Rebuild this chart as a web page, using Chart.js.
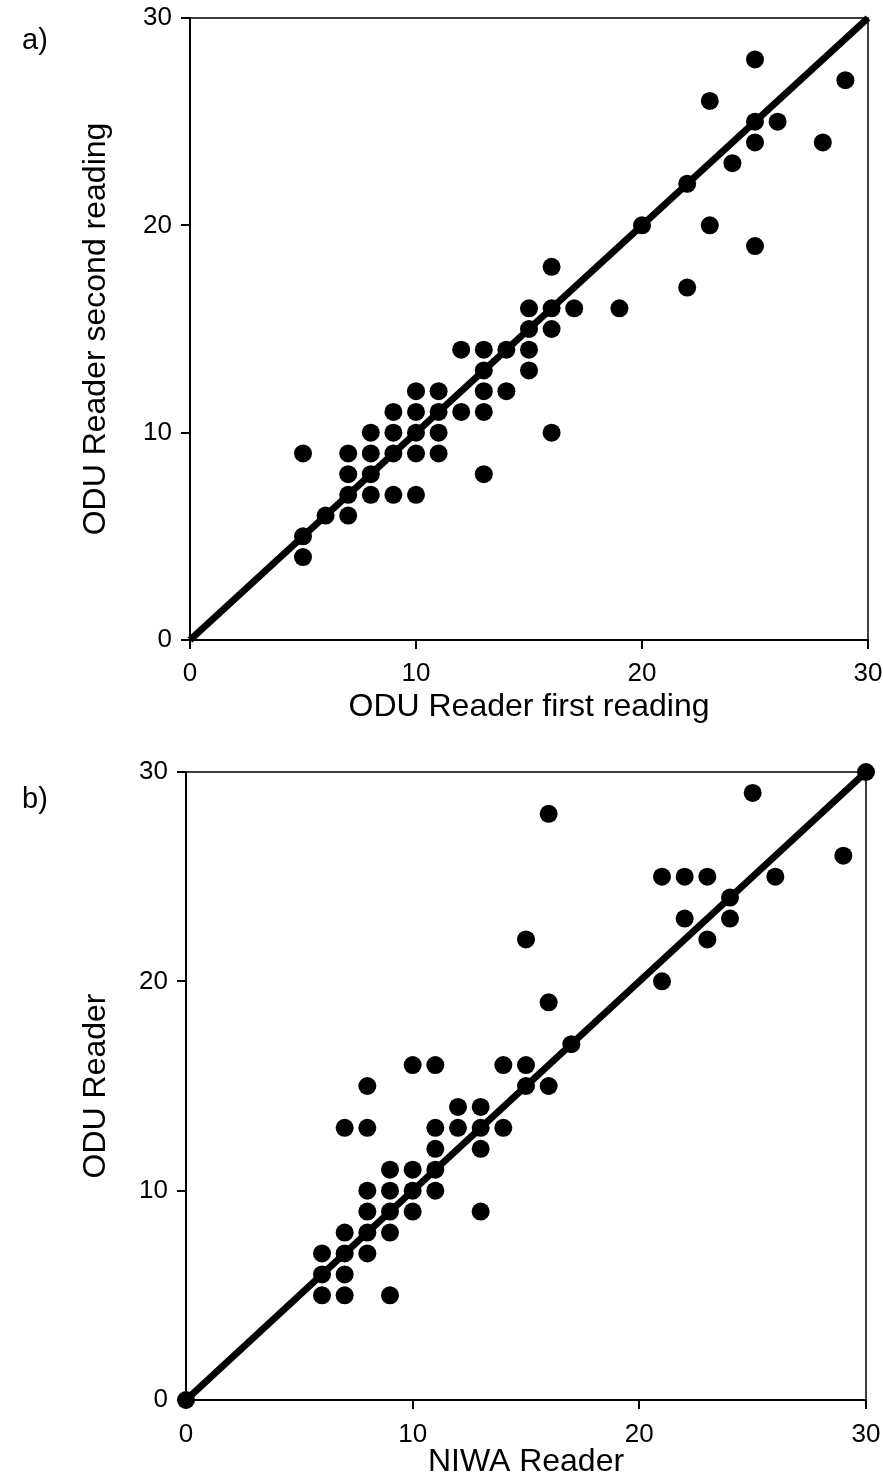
<!DOCTYPE html>
<html>
<head>
<meta charset="utf-8">
<script src="https://cdn.jsdelivr.net/npm/chart.js@4.4.0/dist/chart.umd.min.js"></script>
<style>
  html, body { margin: 0; padding: 0; background: #fff; overflow: hidden; }
  .panel { position: absolute; left: 0; }
</style>
</head>
<body>
<div class="panel" style="top:0"><canvas id="chartA" width="883" height="740"></canvas></div>
<div class="panel" style="top:740px"><canvas id="chartB" width="883" height="760"></canvas></div>
<script>
// panel a) ODU reader, first vs second reading
const odu1First  = [5,5,5,6,7,7,7,7,8,8,8,8,9,9,9,9,10,10,10,10,10,11,11,11,11,12,12,13,13,13,13,13,14,14,15,15,15,15,16,16,16,16,17,19,20,22,22,23,23,24,25,25,25,25,26,28,29];
const odu1Second = [9,5,4,6,9,8,7,6,10,9,8,7,11,10,9,7,12,11,10,9,7,12,11,10,9,14,11,14,13,12,11,8,14,12,16,15,14,13,18,16,15,10,16,16,20,22,17,26,20,23,28,25,24,19,25,24,27];

// panel b) NIWA reader vs ODU reader
const niwaAge = [0,6,6,6,7,7,7,7,7,8,8,8,8,8,8,9,9,9,9,9,10,10,10,10,11,11,11,11,11,12,12,13,13,13,13,14,14,15,15,15,16,16,16,17,21,21,22,22,23,23,24,24,25,26,29,30];
const oduAge  = [0,7,6,5,13,8,7,6,5,15,13,10,9,8,7,11,10,9,8,5,16,11,10,9,16,13,12,11,10,14,13,14,13,12,9,16,13,22,16,15,28,19,15,17,25,20,25,23,25,22,24,23,29,25,26,30];

// 1:1 line ends and axis ticks
const oneToOne  = [0, 30];
const axisTicks = [0, 10, 20, 30];

const FONT = '"Liberation Sans", Arial, Helvetica, sans-serif';

const framePlugin = {
  id: 'frame',
  afterDraw(chart, args, opts) {
    const { ctx, chartArea: a } = chart;
    ctx.save();
    ctx.strokeStyle = '#000';
    ctx.lineWidth = 1.5;
    ctx.beginPath();
    ctx.moveTo(a.left, a.top);
    ctx.lineTo(a.right, a.top);
    ctx.lineTo(a.right, a.bottom);
    ctx.stroke();
    // panel letter
    ctx.fillStyle = '#000';
    ctx.font = '29px ' + FONT;
    ctx.textBaseline = 'middle';
    ctx.fillText(opts.text, opts.x, opts.y);
    ctx.restore();
  }
};

function makeChart(id, xs, ys, cfg) {
  const pts = xs.map((x, i) => ({ x: x, y: ys[i] }));
  const line = oneToOne.map(v => ({ x: v, y: v }));

  const axis = (title, titlePad, tickPad, fit) => ({
    type: 'linear',
    min: oneToOne[0],
    max: oneToOne[1],
    afterBuildTicks: s => { s.ticks = axisTicks.map(v => ({ value: v })); },
    afterFit: fit,
    grid: { drawOnChartArea: false, drawTicks: true, tickLength: 9, color: '#000', lineWidth: 2 },
    border: { display: true, color: '#000', width: 2 },
    ticks: { color: '#000', padding: tickPad, font: { family: FONT, size: 26 } },
    title: { display: true, text: title, color: '#000', padding: titlePad, font: { family: FONT, size: 32 } }
  });

  return new Chart(document.getElementById(id), {
    type: 'scatter',
    data: {
      datasets: [
        { data: line, showLine: true, borderColor: '#000', borderWidth: 7, pointRadius: 0, clip: false },
        { data: pts, backgroundColor: '#000', borderColor: '#000', borderWidth: 0, pointRadius: 9, clip: false }
      ]
    },
    options: {
      responsive: false,
      animation: false,
      layout: { padding: { top: cfg.top, right: cfg.right, left: 0, bottom: 0 } },
      plugins: {
        legend: { display: false },
        tooltip: { enabled: false },
        frame: { text: cfg.label, x: 22, y: cfg.labelY }
      },
      scales: {
        x: axis(cfg.xTitle, { top: 0, bottom: cfg.xTitlePad }, cfg.xTickPad, s => {
          s.height = cfg.xAxisH;
          s.paddingLeft = 0;
          s.paddingRight = 0;
        }),
        y: axis(cfg.yTitle, { top: 77, bottom: 0 }, 9, s => {
          s.width = cfg.yAxisW;
          s.paddingTop = 0;
          s.paddingBottom = 0;
        })
      }
    },
    plugins: [framePlugin]
  });
}

makeChart('chartA', odu1First, odu1Second, {
  label: 'a)', labelY: 41,
  xTitle: 'ODU Reader first reading', yTitle: 'ODU Reader second reading',
  top: 18, right: 15, yAxisW: 190, xAxisH: 100, xTitlePad: 14, xTickPad: 9
});

// canvas b runs a little past the page bottom so its x title sits low like the original
makeChart('chartB', niwaAge, oduAge, {
  label: 'b)', labelY: 60,
  xTitle: 'NIWA Reader', yTitle: 'ODU Reader',
  top: 32, right: 17, yAxisW: 186, xAxisH: 100, xTitlePad: 19, xTickPad: 10
});
</script>
</body>
</html>
